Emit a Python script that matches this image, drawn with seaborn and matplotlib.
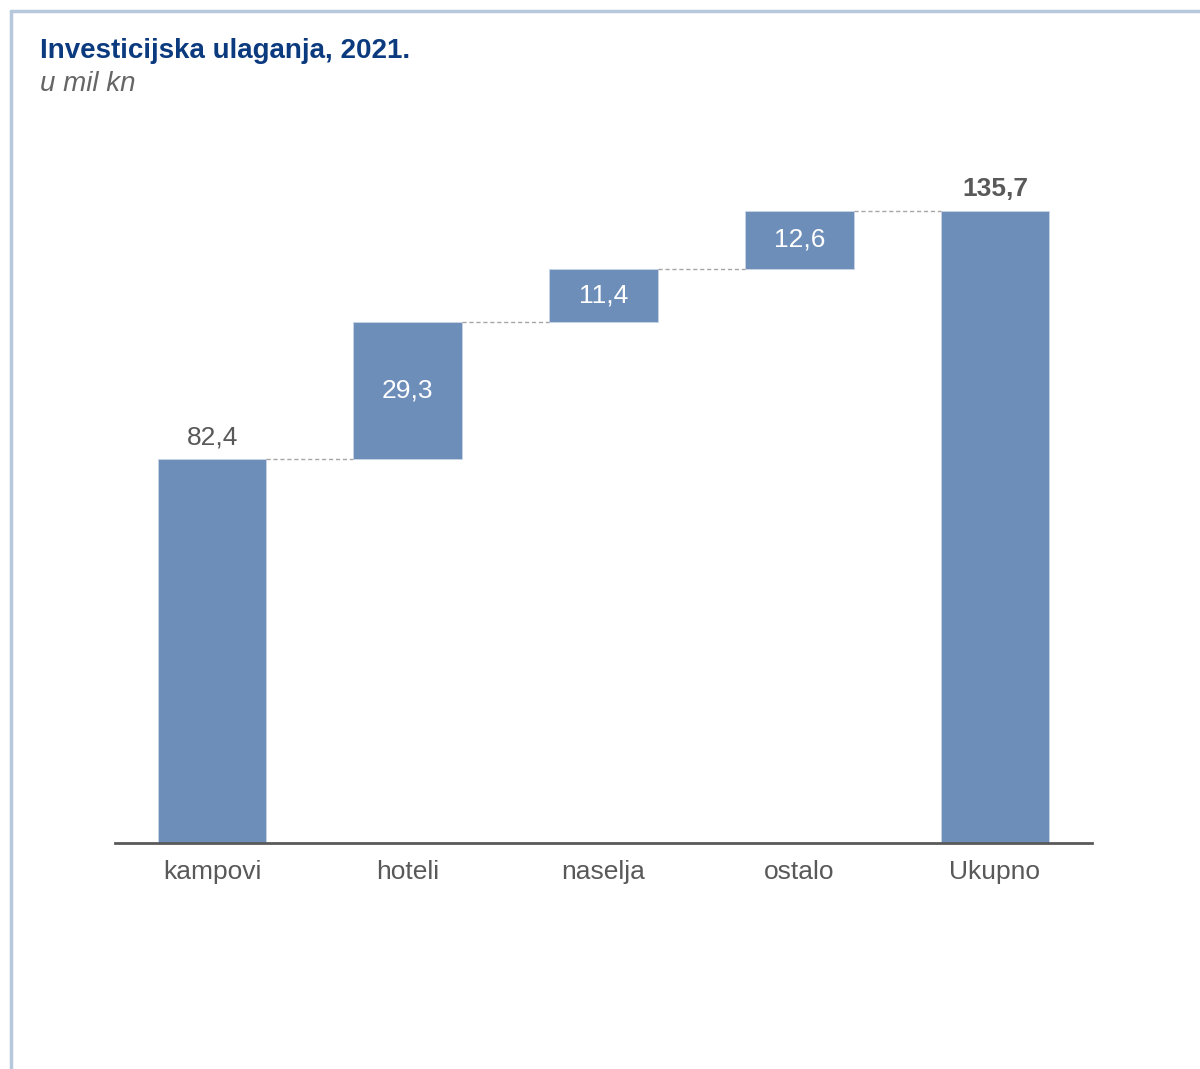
import numpy as np
import pandas as pd
import matplotlib
matplotlib.use("Agg")
import matplotlib.pyplot as plt
import seaborn as sns
from matplotlib.lines import Line2D

# data
categories = ["kampovi", "hoteli", "naselja", "ostalo", "Ukupno"]
steps = [82.4, 29.3, 11.4, 12.6]
total = 135.7
labels = ["82,4", "29,3", "11,4", "12,6", "135,7"]

heights = steps + [total]
bottoms = [0] + list(np.cumsum(steps)[:-1]) + [0]
df = pd.DataFrame({"cat": categories, "h": heights, "b": bottoms})

BAR = "#6E8EBA"
GREY = "#595959"

sns.set_theme(style="white")
plt.rcParams["font.family"] = ["Liberation Sans", "DejaVu Sans"]

fig = plt.figure(figsize=(12, 10.69), dpi=100)
W, H = 1200, 1069

# border lines (top and left)
fig.add_artist(Line2D([11 / W, 1], [1 - 11 / H, 1 - 11 / H], color="#B8C8DC", lw=2.5))
fig.add_artist(Line2D([11 / W, 11 / W], [0, 1 - 11 / H], color="#B8C8DC", lw=2.5))

fig.text(40 / W, 1 - 51 / H, "Investicijska ulaganja, 2021.", fontsize=20,
         fontweight="bold", color="#0B3A7E", va="center")
fig.text(40 / W, 1 - 84 / H, "u mil kn", fontsize=20, style="italic",
         color="#666666", va="center")

top_px = 170
ax = fig.add_axes([115 / W, (H - 843) / H, (1092 - 115) / W, (843 - top_px) / H])
sns.barplot(data=df, x="cat", y="h", bottom=df["b"], color=BAR, width=0.555,
            saturation=1, edgecolor="#C9D5E6", linewidth=0.6, ax=ax)

ymax = (843 - top_px) / (384 / 82.4)
ax.set_ylim(0, ymax)
ax.set_xlim(-0.496, 4.496)

# dashed connectors
tops = list(np.cumsum(steps))
hw = 0.555 / 2
for i, t in enumerate(tops):
    ax.plot([i + hw, i + 1 - hw], [t, t], color="#A6A6A6", lw=1, ls=(0, (3, 2)))

# value labels
ax.text(0, heights[0] + 2, labels[0], ha="center", va="bottom", fontsize=19, color=GREY)
for i in range(1, 4):
    ax.text(i, bottoms[i] + heights[i] / 2, labels[i], ha="center", va="center",
            fontsize=19, color="white")
ax.text(4, total + 2, labels[4], ha="center", va="bottom", fontsize=19,
        color=GREY, fontweight="bold")

ax.set_xlabel("")
ax.set_ylabel("")
ax.set_yticks([])
ax.tick_params(axis="x", length=0, pad=12, labelsize=19, labelcolor=GREY)
for s in ["top", "right", "left"]:
    ax.spines[s].set_visible(False)
ax.spines["bottom"].set_color(GREY)
ax.spines["bottom"].set_linewidth(2)

fig.savefig("out.png", dpi=100)
